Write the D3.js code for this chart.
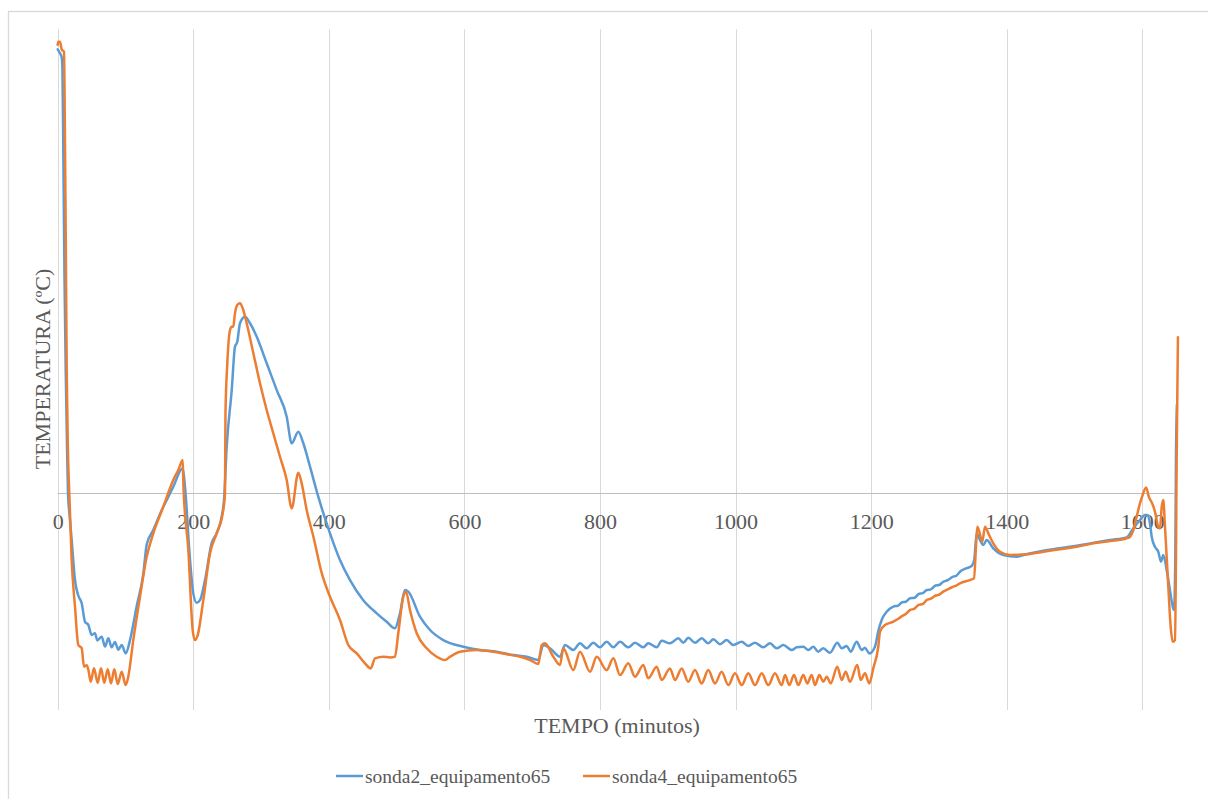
<!DOCTYPE html>
<html>
<head>
<meta charset="utf-8">
<script src="https://cdn.jsdelivr.net/npm/d3@7"></script>
<style>
  html, body { margin: 0; padding: 0; background: #fff; }
  svg text { font-family: "Liberation Serif", "Times New Roman", Times, "DejaVu Serif", serif; }
</style>
</head>
<body>
<svg id="chart" width="1208" height="799"></svg>
<script>
// Probe readings: [minutes, temperature °C]
const sonda2 = [
  [0, 28.7], [3.4, 28.45], [5.9, 28.2], [7, 27.4], [8.5, 21], [10, 14], [12, 7.5], [14, 2.5],
  [15.2, 0], [17.5, -1.4], [20.6, -3.0], [25.5, -5.6], [30.4, -6.6], [35.4, -7.1], [40.3, -8.3],
  [45.2, -8.5], [50.1, -9.15], [55, -9.04], [58.4, -9.5], [64.9, -9.26], [69.8, -9.9], [74.7, -9.37],
  [79.6, -9.95], [84.5, -9.6], [89.4, -10.1], [94.4, -9.8], [100.3, -10.34], [106.6, -9.5],
  [116.5, -7.3], [126.3, -5.2], [131.3, -3.3], [141, -2.37], [155.8, -0.86], [160.8, -0.43],
  [170.5, 0.43], [184.4, 1.62], [187.8, 0.43], [195.2, -4.3], [200, -6.46], [205, -7.07],
  [209.9, -6.9], [217.3, -5.6], [227.2, -3.2], [234.5, -2.58], [241.9, -1.5], [245.3, -0.43],
  [249.3, 3.02], [256.7, 6.68], [261.5, 9.48], [264.9, 9.8], [268.9, 11.0], [276.3, 11.42],
  [283.7, 11.0], [293.6, 10.13], [308.3, 8.41], [323.1, 6.68], [337.8, 4.96], [345.2, 3.24],
  [354.9, 3.99], [362.3, 3.24], [372.2, 1.73], [384.4, -0.21], [401.7, -2.58], [416.4, -4.3],
  [431.2, -5.6], [450.8, -6.9], [470.6, -7.75], [485.3, -8.3], [497.5, -8.72], [504.9, -7.75],
  [512.3, -6.24], [517.2, -6.35], [534.4, -7.97], [549.2, -8.83], [568.8, -9.48], [598.3, -9.91],
  [623, -10.12], [647.6, -10.23], [672.1, -10.45], [691.8, -10.56], [708.9, -10.77], [716.3, -9.8],
  [726.2, -10.01], [741, -10.56], [748.3, -9.8], [760.6, -10.12], [770.5, -9.69], [780.3, -10.01],
  [790.1, -9.65], [799.9, -9.95], [809.8, -9.59], [819.6, -9.95], [829.5, -9.59], [841.7, -9.95],
  [851.6, -9.65], [863.8, -9.95], [871.2, -9.69], [883.6, -9.95], [891, -9.52], [903.2, -9.69],
  [915.5, -9.37], [922.9, -9.65], [930.2, -9.33], [940.1, -9.65], [949.9, -9.37], [959.7, -9.69],
  [967.1, -9.43], [977, -9.75], [986.8, -9.48], [996.6, -9.8], [1009, -9.59], [1018.7, -9.86],
  [1028.6, -9.65], [1040.8, -9.95], [1050.7, -9.69], [1060.6, -10.01], [1070.4, -9.8],
  [1082.7, -10.12], [1090.1, -9.95], [1099.9, -9.91], [1107.3, -10.12], [1114.6, -9.91],
  [1122, -10.23], [1129.4, -10.01], [1139.2, -10.3], [1150, -9.65], [1156.5, -10.01],
  [1163.9, -9.86], [1169.8, -10.23], [1178.6, -9.59], [1186, -10.12], [1190.8, -9.97],
  [1197.2, -10.34], [1205.6, -9.91], [1210.5, -8.9], [1215.5, -8.18], [1222.9, -7.65],
  [1232.6, -7.32], [1240, -7.25], [1245, -7.05], [1251, -7.0], [1257.2, -6.78], [1264, -6.75],
  [1270, -6.5], [1276, -6.45], [1281.9, -6.24], [1288, -6.2], [1295, -5.95], [1300, -5.92],
  [1306.4, -5.71], [1313, -5.6], [1320, -5.4], [1326, -5.3], [1331, -5.06], [1340, -4.85],
  [1348.2, -4.69], [1352, -4.3], [1355.6, -2.58], [1360.5, -3.01], [1365.4, -3.34], [1370.4, -3.01],
  [1380.1, -3.55], [1394.9, -3.98], [1414.6, -4.09], [1430, -3.92], [1453.9, -3.7], [1478, -3.55],
  [1503.2, -3.38], [1527, -3.2], [1552.3, -3.01], [1576.9, -2.84], [1586.7, -2.26], [1596.5, -1.72],
  [1603.9, -1.4], [1607.9, -1.4], [1611.2, -1.93], [1613.8, -2.8], [1618.6, -3.45], [1623.5, -3.77],
  [1627.5, -4.41], [1630.9, -3.98], [1635.9, -4.95], [1640.7, -6.24], [1644.8, -7.32],
  [1646.7, -7.54], [1648.6, -4.3], [1649.6, 2.16], [1651, 5.72]
];

const sonda4 = [
  [0, 29.0], [0.9, 29.2], [3.4, 29.2], [5.9, 28.7], [9.3, 28.55], [10.5, 24], [12, 16], [13.3, 8],
  [15, 3], [17.1, 0], [20.6, -4.3], [25.5, -7.32], [30.4, -9.8], [35.4, -10.0], [38.8, -11.2],
  [42.8, -11.1], [45.2, -11.4], [48.7, -12.17], [53.5, -11.3], [59, -12.24], [63.9, -11.3],
  [68.7, -12.24], [73.8, -11.37], [78.6, -12.28], [83.5, -11.37], [88.5, -12.32], [94.4, -11.53],
  [100.3, -12.39], [104.1, -11.85], [111.5, -9.48], [121.4, -6.68], [131.3, -4.09], [141, -2.58],
  [155.8, -0.86], [170.5, 0.87], [177.9, 1.51], [184.4, 2.16], [185.5, 0.43], [192.7, -3.66],
  [199.1, -8.83], [202.5, -9.48], [205.9, -9.26], [214.8, -6.9], [224.7, -3.87], [234.5, -2.58],
  [243.4, -1.29], [246.8, 0], [247.5, 5.18], [250.2, 8.41], [254.2, 10.56], [256.7, 10.78],
  [259, 10.78], [261.5, 11.64], [264.9, 12.18], [268.9, 12.29], [272.9, 11.97], [278.8, 11.0],
  [288.6, 9.06], [298.4, 7.12], [308.3, 5.39], [318, 3.89], [327.9, 2.37], [337.8, 0.87],
  [345.2, -0.96], [354.9, 1.34], [359.9, 0.65], [367.3, -1.07], [377.2, -2.8], [389.6, -5.17],
  [401.7, -6.68], [416.4, -8.18], [428.7, -9.8], [441.1, -10.34], [453.3, -10.98], [461.7, -11.31],
  [468.1, -10.66], [480.3, -10.56], [490.2, -10.6], [497.5, -10.56], [502.4, -9.04], [509.8, -6.68],
  [513.8, -6.35], [519.7, -7.54], [529.6, -9.04], [544.3, -10.01], [559.1, -10.56], [571.3, -10.77],
  [578.7, -10.56], [593.4, -10.23], [618.1, -10.12], [642.6, -10.23], [662.3, -10.4], [682, -10.56],
  [696.7, -10.77], [708.9, -11.03], [714, -9.8], [718.8, -9.69], [731.1, -10.56], [741, -11.09],
  [745.8, -10.01], [760.6, -11.42], [770.5, -10.23], [785.2, -11.53], [795.1, -10.56],
  [809.8, -11.42], [819.6, -10.66], [829.5, -11.74], [841.7, -10.98], [851.6, -11.85],
  [863.8, -11.09], [871.2, -11.95], [883.6, -11.2], [891, -12.06], [903.2, -11.31], [910.6, -12.06],
  [920.5, -11.31], [930.2, -12.17], [940.1, -11.42], [949.9, -12.28], [959.7, -11.42],
  [969.6, -12.28], [979.4, -11.53], [989.2, -12.39], [999.1, -11.63], [1009, -12.39],
  [1018.7, -11.63], [1028.6, -12.39], [1038.5, -11.63], [1048.2, -12.39], [1058.1, -11.63],
  [1068, -12.39], [1072.9, -11.74], [1079.2, -12.39], [1086.1, -11.74], [1092.5, -12.39],
  [1099.9, -11.74], [1105.7, -12.28], [1112.2, -11.74], [1117.1, -12.39], [1123.5, -11.74],
  [1129.4, -12.17], [1134.4, -11.85], [1140.3, -12.28], [1150, -11.2], [1156.5, -12.06],
  [1162.4, -11.53], [1168.7, -12.17], [1179.5, -11.09], [1184.5, -12.06], [1190.8, -11.63],
  [1197.2, -12.28], [1203.1, -11.31], [1210.5, -9.91], [1213, -8.94], [1220.4, -8.51],
  [1232.6, -8.29], [1240, -8.1], [1245, -7.95], [1251, -7.8], [1257.2, -7.54], [1264, -7.45],
  [1270, -7.2], [1276, -7.15], [1281.9, -6.89], [1288, -6.8], [1295, -6.6], [1300, -6.55],
  [1306.4, -6.35], [1313, -6.2], [1320, -6.05], [1326, -5.95], [1331, -5.81], [1345.7, -5.6],
  [1351.6, -5.49], [1354.6, -3.45], [1356.5, -2.15], [1359.5, -2.48], [1363.9, -3.12],
  [1367.9, -2.15], [1372.8, -2.58], [1380.1, -3.23], [1390, -3.77], [1404.8, -3.98],
  [1429.4, -3.94], [1453.9, -3.77], [1478.5, -3.61], [1503.2, -3.45], [1527.6, -3.23],
  [1552.3, -3.08], [1576.9, -2.9], [1581.8, -2.8], [1586.7, -2.37], [1591.6, -1.51],
  [1596.5, -0.64], [1599.7, -0.21], [1605.6, 0.39], [1609.5, -0.21], [1614.5, -0.64],
  [1618.6, -1.18], [1623.5, -2.15], [1626, -2.26], [1628.6, -0.86], [1630.9, -0.43],
  [1633.4, -2.15], [1638.3, -6.03], [1641.8, -8.62], [1644.8, -9.59], [1648.1, -9.48],
  [1649.6, -4.3], [1650.6, 2.16], [1652.5, 10.1]
];

const seriesNames = ["sonda2_equipamento65", "sonda4_equipamento65"];
const seriesColors = ["#5B9BD5", "#ED7D31"];
const xTicks = [0, 200, 400, 600, 800, 1000, 1200, 1400, 1600];
const xTitle = "TEMPO (minutos)";
const yTitle = "TEMPERATURA (ºC)";

const FONT = "'Liberation Serif', 'Times New Roman', Times, 'DejaVu Serif', serif";
const svg = d3.select("#chart");
const W = 1208, H = 799;
const plot = { left: 57.7, top: 29.3, bottom: 710 };

const x = d3.scaleLinear().domain([0, 1650]).range([plot.left, plot.left + 1650 * 0.6779]);
const y = d3.scaleLinear().domain([-14, 30]).range([plot.bottom, plot.top]);

// chart area frame
svg.append("rect")
  .attr("x", 8.5).attr("y", 11.5)
  .attr("width", W + 20).attr("height", H + 20)
  .attr("fill", "#fff").attr("stroke", "#d9d9d9").attr("stroke-width", 1.3);

// vertical gridlines
svg.append("g")
  .selectAll("line")
  .data(xTicks)
  .join("line")
  .attr("x1", d => Math.round(x(d)) + 0.5).attr("x2", d => Math.round(x(d)) + 0.5)
  .attr("y1", plot.top).attr("y2", plot.bottom)
  .attr("stroke", "#d9d9d9").attr("stroke-width", 1);

// horizontal axis at 0 °C
const axis = d3.axisBottom(x).tickValues(xTicks).tickSize(0).tickPadding(0).tickFormat(d3.format("d"));
const axisG = svg.append("g")
  .attr("transform", `translate(0,${Math.round(y(0)) + 0.5})`)
  .call(axis)
  .attr("font-family", FONT)
  .attr("font-size", 22);
axisG.select(".domain")
  .attr("d", `M${x(0)},0H${x(1647)}`)
  .attr("stroke", "#bfbfbf").attr("stroke-width", 1);
axisG.selectAll(".tick text")
  .attr("y", 35)
  .attr("dy", null)
  .attr("fill", "#595959")
  .attr("font-family", FONT)
  .attr("font-size", 22);

// series lines
const line = d3.line().curve(d3.curveMonotoneX).x(d => x(d[0])).y(d => y(d[1]));
[sonda2, sonda4].forEach((data, i) => {
  svg.append("path")
    .datum(data)
    .attr("fill", "none")
    .attr("stroke", seriesColors[i])
    .attr("stroke-width", 2.5)
    .attr("stroke-linejoin", "round")
    .attr("stroke-linecap", "round")
    .attr("d", line);
});

// axis titles
svg.append("text")
  .attr("x", 617).attr("y", 733)
  .attr("text-anchor", "middle")
  .attr("fill", "#595959")
  .attr("font-family", FONT)
  .attr("font-size", 22)
  .text(xTitle);

svg.append("text")
  .attr("transform", "translate(50,369) rotate(-90)")
  .attr("text-anchor", "middle")
  .attr("fill", "#595959")
  .attr("font-family", FONT)
  .attr("font-size", 22)
  .text(yTitle);

// legend
const legendItems = [
  { x: 336, name: seriesNames[0], color: seriesColors[0] },
  { x: 583, name: seriesNames[1], color: seriesColors[1] }
];
const lg = svg.append("g");
legendItems.forEach(it => {
  lg.append("line")
    .attr("x1", it.x).attr("x2", it.x + 27)
    .attr("y1", 776).attr("y2", 776)
    .attr("stroke", it.color).attr("stroke-width", 2.5);
  lg.append("text")
    .attr("x", it.x + 29).attr("y", 782.7)
    .attr("fill", "#595959")
    .attr("font-family", FONT)
    .attr("font-size", 19.5)
    .text(it.name);
});
</script>
</body>
</html>
